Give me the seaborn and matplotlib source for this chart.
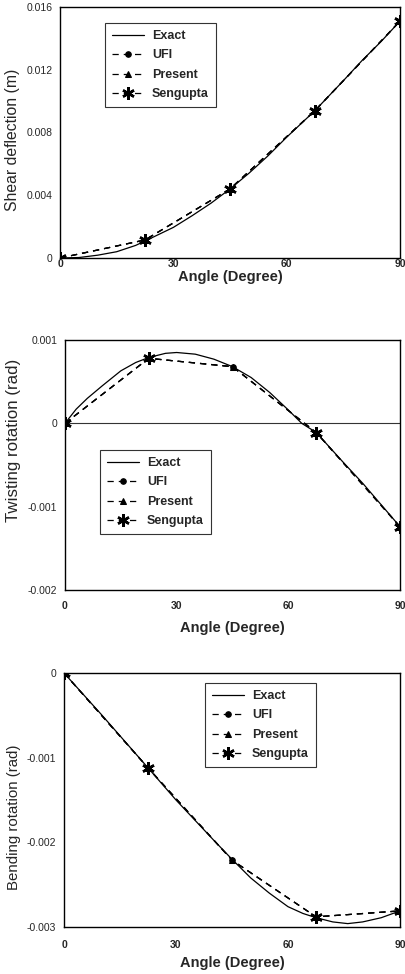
import numpy as np
import pandas as pd
import matplotlib
matplotlib.use("Agg")
import matplotlib.pyplot as plt
import seaborn as sns

sns.set_style("white")
plt.rcParams['font.family'] = ['Liberation Sans', 'DejaVu Sans']

# ---------------- data ----------------
angles_pts = [0, 22.5, 45, 67.5, 90]

# Panel 1: shear deflection (m)
exact1_x = [0, 5, 10, 15, 20, 22.5, 30, 35, 40, 45, 50, 55, 60, 67.5, 75, 80, 85, 90]
exact1_y = [0, 0.00003, 0.00018, 0.0004, 0.0008, 0.00108, 0.00195, 0.0027, 0.0035, 0.0044,
            0.0054, 0.0065, 0.0077, 0.0094, 0.0113, 0.0126, 0.0138, 0.0151]
ufi1 = [0, 0.00115, 0.0044, 0.0094, 0.0151]
present1 = [0, 0.00115, 0.0044, 0.0094, 0.0151]
seng1 = [0, 0.00115, 0.0044, 0.0094, 0.0151]
seng1_marked = [0, 1, 2, 3, 4]

# Panel 2: twisting rotation (rad)
exact2_x = [0, 3, 6, 10, 15, 19, 22.5, 27, 30, 35, 40, 45, 50, 55, 60, 63.6, 67.5, 75, 80, 85, 90]
exact2_y = [0, 0.00017, 0.0003, 0.00045, 0.00063, 0.00073, 0.00079, 0.00084, 0.00085, 0.00083,
            0.00077, 0.00068, 0.00055, 0.00037, 0.00016, 0.0, -0.00011,
            -0.00048, -0.00072, -0.00098, -0.00124]
ufi2 = [0, 0.00078, 0.00068, -0.00011, -0.00124]
present2 = [0, 0.00078, 0.00068, -0.00011, -0.00124]
seng2 = [0, 0.00078, 0.00068, -0.00011, -0.00124]
seng2_marked = [0, 1, 3, 4]

# Panel 3: bending rotation (rad)
exact3_x = [0, 10, 22.5, 30, 40, 45, 50, 55, 60, 64, 67.5, 72, 76, 80, 85, 90]
exact3_y = [0, -0.00049, -0.00112, -0.0015, -0.00197, -0.0022, -0.00242, -0.0026,
            -0.00276, -0.00284, -0.00289, -0.00294, -0.00296, -0.00294, -0.00289, -0.00281]
ufi3 = [0, -0.00112, -0.00221, -0.00288, -0.00281]
present3 = [0, -0.00112, -0.00221, -0.00288, -0.00281]
seng3 = [0, -0.00112, -0.00221, -0.00288, -0.00281]
seng3_marked = [0, 1, 3, 4]

xticks = [0, 30, 60, 90]
ylabels = ["Shear deflection (m)", "Twisting rotation (rad)", "Bending rotation (rad)"]
xlabel = "Angle (Degree)"

W, H = 405.0, 974.0
panels = [
    dict(ex=exact1_x, ey=exact1_y, ufi=ufi1, pre=present1, sy=seng1, mk=seng1_marked,
         ylim=(0, 0.016), yticks=[0, 0.004, 0.008, 0.012, 0.016],
         yticklabels=["0", "0.004", "0.008", "0.012", "0.016"],
         box=(60, 7, 400, 258), leg=(105, 23), zero=False,
         xpad=1.0, labpad=0.5, ylab_c=(13, 140), ylab_fs=11.3),
    dict(ex=exact2_x, ey=exact2_y, ufi=ufi2, pre=present2, sy=seng2, mk=seng2_marked,
         ylim=(-0.002, 0.001), yticks=[-0.002, -0.001, 0, 0.001],
         yticklabels=["-0.002", "-0.001", "0", "0.001"],
         box=(65, 340, 400, 590), leg=(100, 450), zero=True,
         xpad=8.0, labpad=7.0, ylab_c=(14, 440), ylab_fs=12.2),
    dict(ex=exact3_x, ey=exact3_y, ufi=ufi3, pre=present3, sy=seng3, mk=seng3_marked,
         ylim=(-0.003, 0), yticks=[-0.003, -0.002, -0.001, 0],
         yticklabels=["-0.003", "-0.002", "-0.001", "0"],
         box=(64, 673, 400, 927), leg=(205, 683), zero=False,
         xpad=9.5, labpad=4.5, ylab_c=(14, 817), ylab_fs=10.8),
]

fig = plt.figure(figsize=(4.05, 9.74), dpi=100)

star = (6, 2, 0)
dash = (0, (5, 4))
for i, p in enumerate(panels):
    x0, y0, x1, y1 = p["box"]
    ax = fig.add_axes([x0 / W, 1 - y1 / H, (x1 - x0) / W, (y1 - y0) / H])
    if p["zero"]:
        ax.axhline(0, color="#333333", lw=0.8, zorder=1)
    df_e = pd.DataFrame({"x": p["ex"], "y": p["ey"]})
    df_u = pd.DataFrame({"x": angles_pts, "y": p["ufi"]})
    df_p = pd.DataFrame({"x": angles_pts, "y": p["pre"]})
    df_s = pd.DataFrame({"x": angles_pts, "y": p["sy"]})
    sns.lineplot(data=df_e, x="x", y="y", ax=ax, color="black", lw=0.9,
                 label="Exact", sort=False)
    sns.lineplot(data=df_u, x="x", y="y", ax=ax, color="black", lw=0.9,
                 linestyle=dash, marker="o", markersize=4,
                 markeredgecolor="black", label="UFI", sort=False)
    sns.lineplot(data=df_p, x="x", y="y", ax=ax, color="black", lw=0.9,
                 linestyle=dash, marker="^", markersize=4,
                 markeredgecolor="black", label="Present", sort=False)
    sns.lineplot(data=df_s, x="x", y="y", ax=ax, color="black", lw=0.9,
                 linestyle=dash, marker=star, markersize=9, markevery=p["mk"],
                 markeredgewidth=1.8, markeredgecolor="black", label="Sengupta",
                 sort=False)
    ax.set_xlim(0, 90)
    ax.set_ylim(*p["ylim"])
    ax.set_xticks(xticks)
    ax.set_xticklabels([str(t) for t in xticks], fontsize=7.5, fontweight="bold")
    ax.set_yticks(p["yticks"])
    ax.set_yticklabels(p["yticklabels"], fontsize=7.5)
    ax.tick_params(axis="y", length=0, pad=5.5)
    ax.tick_params(axis="x", length=0, pad=p["xpad"])
    ax.set_xlabel(xlabel, fontsize=10.5, fontweight="bold", labelpad=p["labpad"])
    ax.set_ylabel(ylabels[i], fontsize=p["ylab_fs"], va="center")
    cx, cy = p["ylab_c"]
    ax.yaxis.set_label_coords((cx - x0) / (x1 - x0), (y1 - cy) / (y1 - y0))
    for s in ax.spines.values():
        s.set_color("black")
        s.set_linewidth(1.0)
    lx, ly = p["leg"]
    leg = ax.legend(loc="upper left", bbox_to_anchor=(lx / W, 1 - ly / H),
                    bbox_transform=fig.transFigure, frameon=True,
                    prop={"size": 9, "weight": "bold"},
                    fancybox=False, edgecolor="#333333", framealpha=1,
                    handlelength=2.6, borderpad=0.55, labelspacing=0.6,
                    handletextpad=0.6, borderaxespad=0)
    leg.get_frame().set_linewidth(0.8)

fig.savefig("out.png", dpi=100)
